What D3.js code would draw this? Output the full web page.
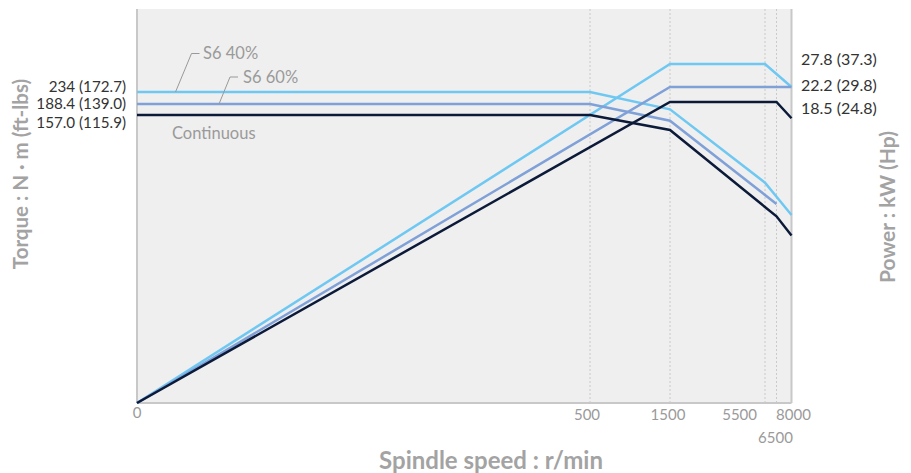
<!DOCTYPE html>
<html>
<head>
<meta charset="utf-8">
<script src="https://cdn.jsdelivr.net/npm/d3@7"></script>
<style>
  body { margin: 0; background: #fff; }
  text { font-family: Lato, "Noto Sans", sans-serif; }
</style>
</head>
<body>
<script>
// speeds (r/min) used on the x axis
const speedTicks = [0, 500, 1500, 5500, 6500, 8000];

// torque curves (N·m) : [speed, torque]
const torqueS640 = [[0, 234], [500, 234], [1500, 173.3], [5500, 120.1], [8000, 102.5]];
const torqueS660 = [[0, 188.4], [500, 188.4], [1500, 153.9], [6500, 108.5]];
const torqueCont = [[0, 157], [500, 157], [1500, 148.8], [6500, 101.8], [8000, 91.3]];

// power curves (kW) : [speed, power]
const powerS640 = [[0, 0], [1500, 27.8], [5500, 27.8], [8000, 22.2]];
const powerS660 = [[0, 0], [1500, 22.2], [8000, 22.2]];
const powerCont = [[0, 0], [1500, 18.5], [6500, 18.5], [8000, 17.5]];

const torqueLabels = ["234 (172.7)", "188.4 (139.0)", "157.0 (115.9)"];
const torqueValues = [234, 188.4, 157];
const powerLabels = ["27.8 (37.3)", "22.2 (29.8)", "18.5 (24.8)"];
const powerValues = [27.8, 22.2, 18.5];
const seriesNames = ["S6 40%", "S6 60%", "Continuous"];

function drawChart() {
  const w = 911, h = 473;
  const left = 137, right = 791.5, top = 9, bottom = 403;

  const colors = ["#6ec8f2", "#7fa1d8", "#0c1a3a"];

  // the chart is schematic: piecewise scales
  const x = d3.scaleLinear()
    .domain(speedTicks)
    .range([left, 590, 670, 765, 776.5, right]);

  const yT = d3.scaleLinear()
    .domain([0, 157, 188.4, 234])
    .range([bottom, 115, 104, 92]);

  const yP = d3.scaleLinear()
    .domain([0, 18.5, 22.2, 27.8])
    .range([bottom, 102, 87, 64]);

  const svg = d3.select("body")
    .append("svg")
    .attr("width", w)
    .attr("height", h);

  // plot background
  svg.append("rect")
    .attr("x", left).attr("y", top)
    .attr("width", right - left).attr("height", bottom - top)
    .attr("fill", "#efefef");

  // dotted grid lines
  svg.selectAll(".grid")
    .data(speedTicks.slice(1, 5)).enter()
    .append("line")
    .attr("x1", d => x(d)).attr("x2", d => x(d))
    .attr("y1", top).attr("y2", bottom)
    .attr("stroke", "#c9c9c9")
    .attr("stroke-width", 1)
    .attr("stroke-dasharray", "2,2");

  // frame lines
  svg.append("line")
    .attr("x1", left).attr("x2", left).attr("y1", top).attr("y2", bottom)
    .attr("stroke", "#c8c8c8").attr("stroke-width", 2);
  svg.append("line")
    .attr("x1", right).attr("x2", right).attr("y1", top).attr("y2", bottom)
    .attr("stroke", "#c8c8c8").attr("stroke-width", 2);
  svg.append("line")
    .attr("x1", left).attr("x2", right).attr("y1", bottom).attr("y2", bottom)
    .attr("stroke", "#c8c8c8").attr("stroke-width", 2);

  // x tick labels
  const tickDx = [0, -3, -2, -8, -1, 2];
  const tickDy = [413, 415, 415, 415, 438, 415];
  svg.selectAll(".tick")
    .data(speedTicks).enter()
    .append("text")
    .attr("x", (d, i) => x(d) + tickDx[i])
    .attr("y", (d, i) => tickDy[i])
    .attr("dy", "0.35em")
    .attr("text-anchor", (d, i) => i == 3 ? "end" : "middle")
    .attr("fill", "#9a9a9a")
    .attr("font-size", 15)
    .text(d => d);

  // lines
  const torqueLine = d3.line().x(d => x(d[0])).y(d => yT(d[1]));
  const powerLine = d3.line().x(d => x(d[0])).y(d => yP(d[1]));

  const torques = [torqueS640, torqueS660, torqueCont];
  const powers = [powerS640, powerS660, powerCont];

  [0, 1, 2].forEach(i => {
    svg.append("path")
      .attr("d", torqueLine(torques[i]))
      .attr("fill", "none")
      .attr("stroke", colors[i])
      .attr("stroke-width", 2.5);
    svg.append("path")
      .attr("d", powerLine(powers[i]))
      .attr("fill", "none")
      .attr("stroke", colors[i])
      .attr("stroke-width", 2.5);
  });

  // left value labels
  const leftOff = [-5.5, 0, 7.5];
  svg.selectAll(".tlabel")
    .data(torqueLabels).enter()
    .append("text")
    .attr("x", 126)
    .attr("y", (d, i) => yT(torqueValues[i]) + leftOff[i])
    .attr("dy", "0.35em")
    .attr("text-anchor", "end")
    .attr("fill", "#333")
    .attr("font-size", 15.2)
    .text(d => d);

  // right value labels
  const rightOff = [-5, -2, 6];
  svg.selectAll(".plabel")
    .data(powerLabels).enter()
    .append("text")
    .attr("x", 801)
    .attr("y", (d, i) => yP(powerValues[i]) + rightOff[i])
    .attr("dy", "0.35em")
    .attr("fill", "#333")
    .attr("font-size", 16)
    .text(d => d);

  // series name labels with leader lines
  const leaders = [
    [[175.5, yT(234)], [191.5, 53.5], [199.5, 53.5]],
    [[219, yT(188.4)], [230, 77], [238, 77]]
  ];
  leaders.forEach(pts => {
    svg.append("path")
      .attr("d", d3.line()(pts))
      .attr("fill", "none")
      .attr("stroke", "#999")
      .attr("stroke-width", 1);
  });
  const nameX = [203, 243, 172];
  const nameY = [53.5, 77, 133];
  svg.selectAll(".name")
    .data(seriesNames).enter()
    .append("text")
    .attr("x", (d, i) => nameX[i])
    .attr("y", (d, i) => nameY[i])
    .attr("dy", "0.35em")
    .attr("fill", "#9a9a9a")
    .attr("font-size", 16.5)
    .text(d => d);

  // axis titles
  svg.append("text")
    .attr("x", 491).attr("y", 461)
    .attr("dy", "0.35em")
    .attr("text-anchor", "middle")
    .attr("fill", "#a3a3a3")
    .attr("font-size", 24)
    .attr("font-weight", "bold")
    .text("Spindle speed : r/min");

  svg.append("text")
    .attr("transform", "translate(21,174) rotate(-90)")
    .attr("dy", "0.35em")
    .attr("text-anchor", "middle")
    .attr("fill", "#a3a3a3")
    .attr("font-size", 20.5)
    .attr("font-weight", "bold")
    .text("Torque : N · m (ft-lbs)");

  svg.append("text")
    .attr("transform", "translate(888,207) rotate(-90)")
    .attr("dy", "0.35em")
    .attr("text-anchor", "middle")
    .attr("fill", "#a3a3a3")
    .attr("font-size", 21)
    .attr("font-weight", "bold")
    .text("Power : kW (Hp)");
}

drawChart();
</script>
</body>
</html>
